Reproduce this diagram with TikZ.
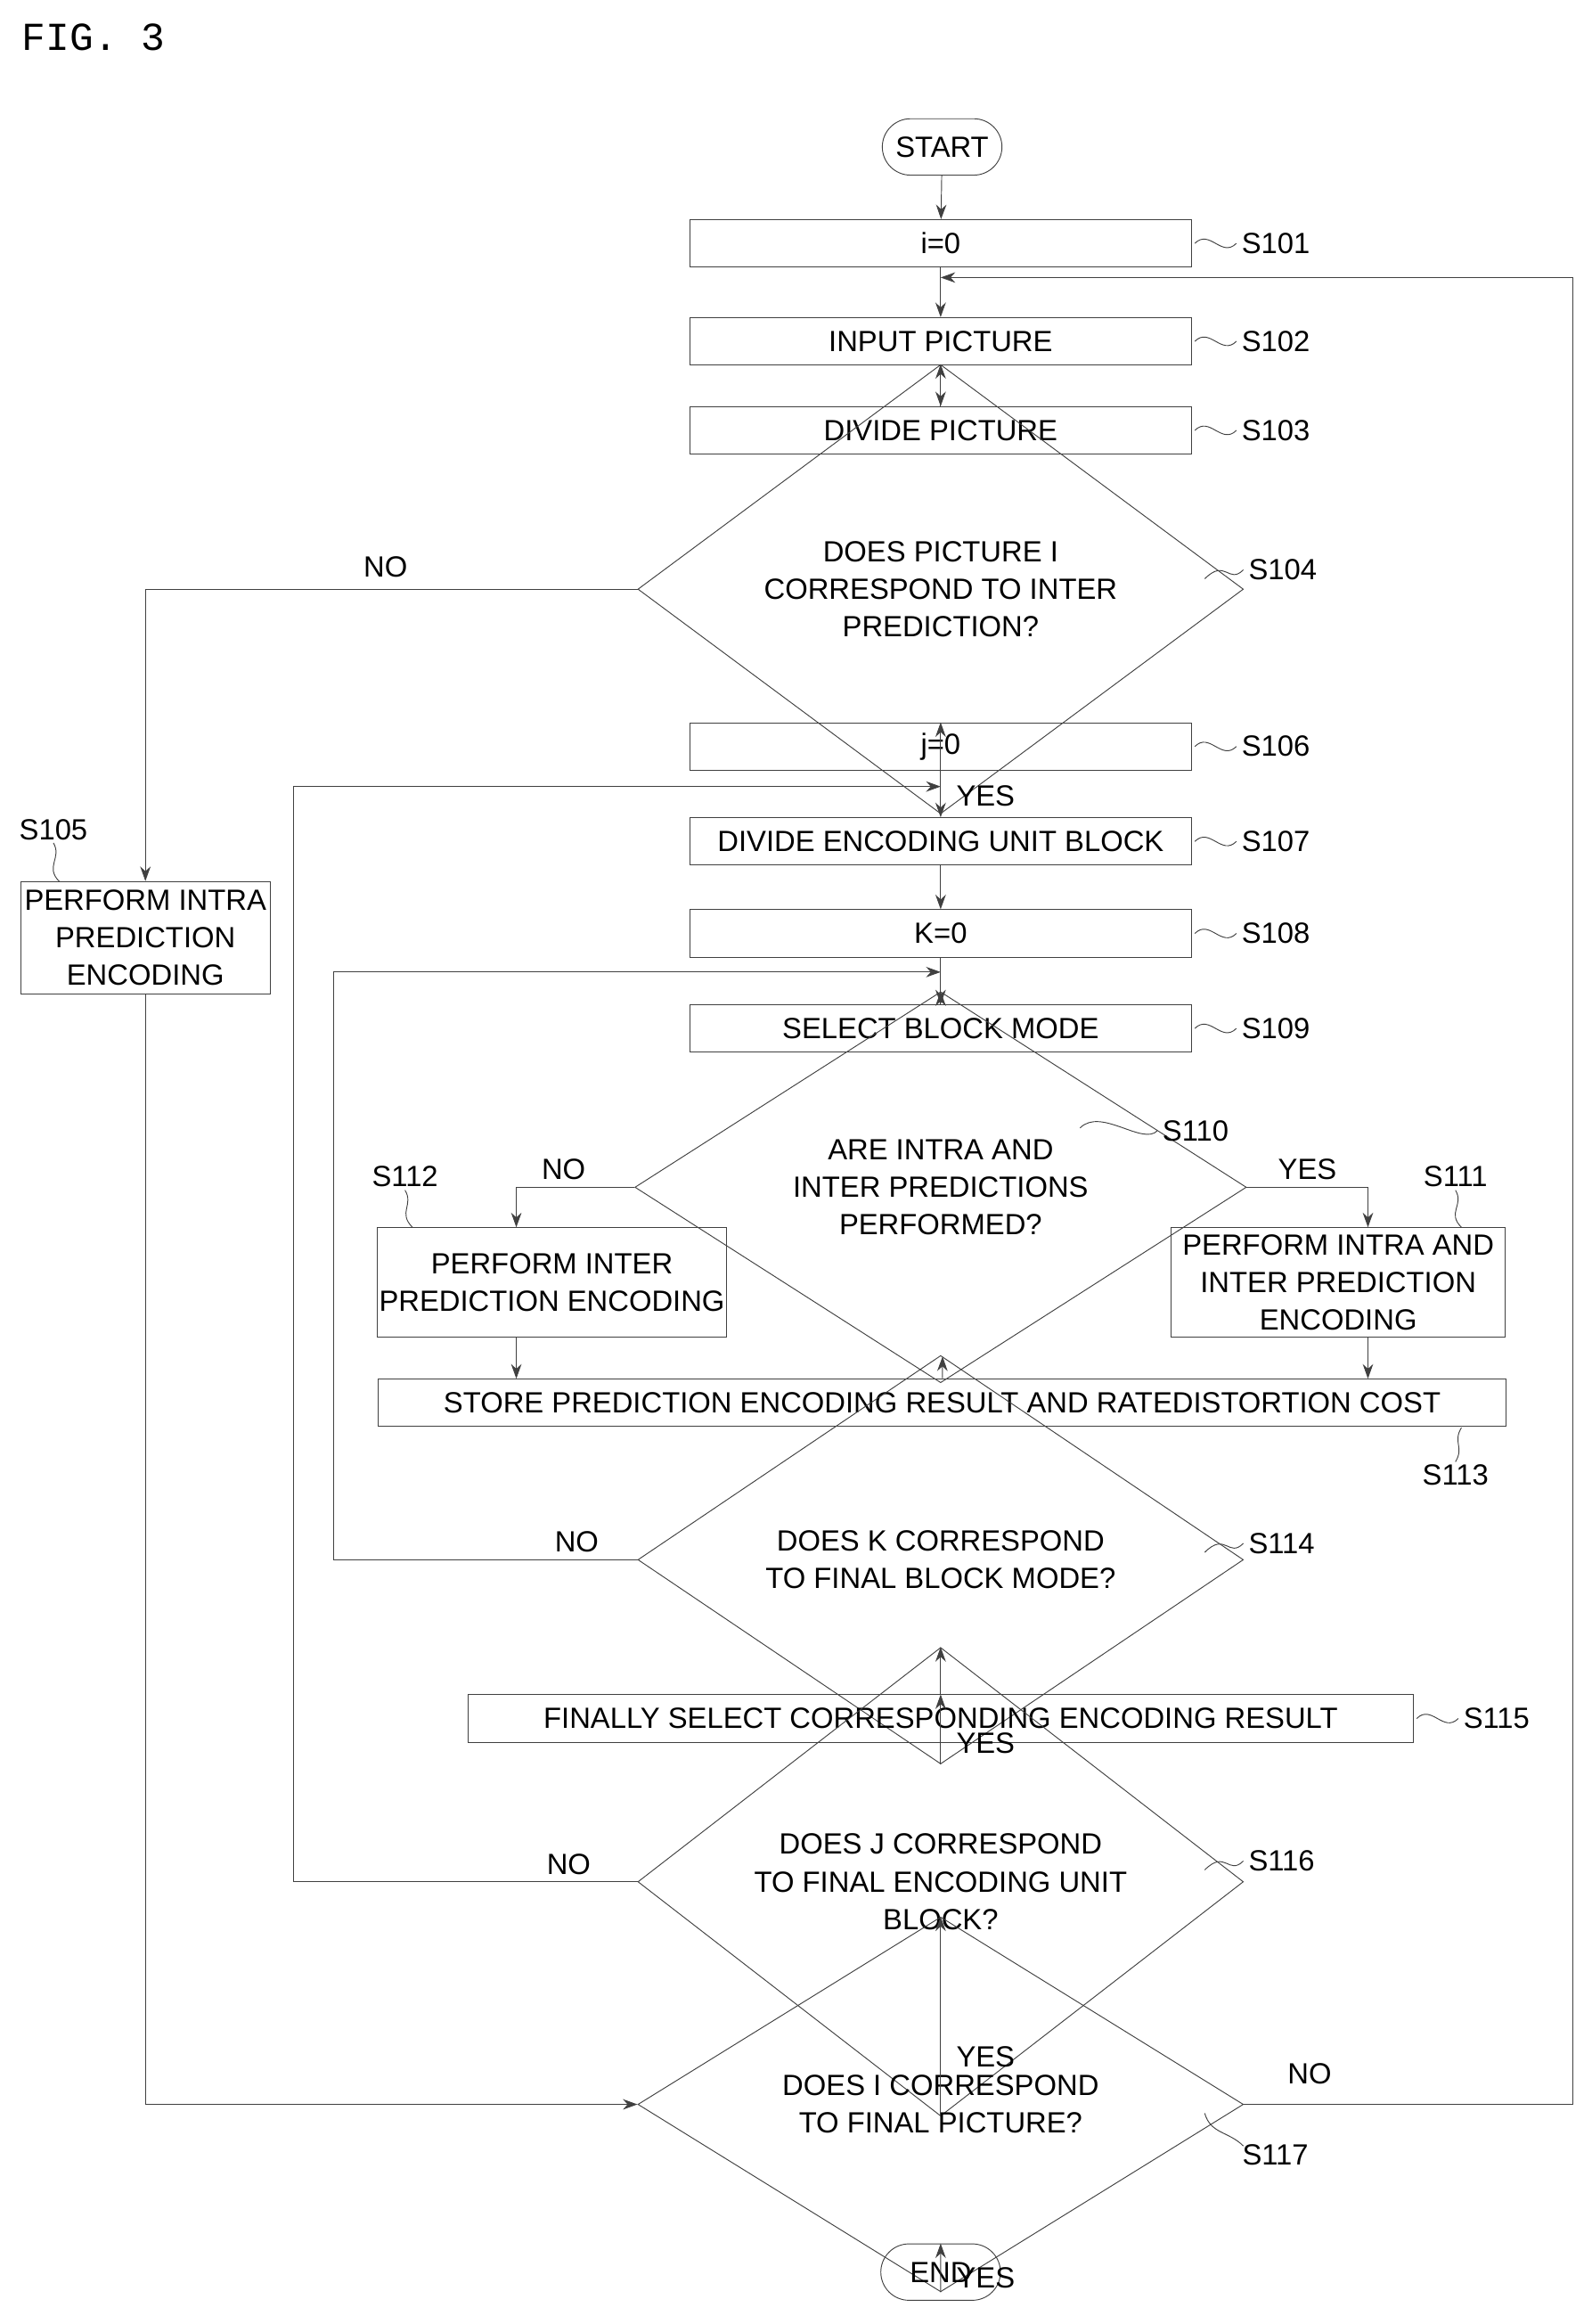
\documentclass[tikz,border=0pt]{standalone}
\usepackage{fontspec}
\setmainfont{Liberation Sans}
\newfontfamily\figfont{Liberation Mono}
\usetikzlibrary{shapes.geometric,shapes.misc,arrows.meta}

\begin{document}
\begin{tikzpicture}[x=0.025cm, y=-0.025cm, font=\fontsize{14}{18}\selectfont,
  stepbox/.style={draw=black!75, rectangle, minimum width=8.45cm, minimum height=0.8cm, inner sep=1pt},
  wide/.style={draw=black!75, rectangle, minimum height=0.8cm, inner sep=1pt},
  term/.style={draw=black!75, rounded rectangle, minimum width=2.25cm, minimum height=0.95cm},
  test/.style={draw=black!75, diamond, minimum width=10.2cm, minimum height=3.175cm, inner sep=0pt, align=center},
  arr/.style={draw=black!75, -{Stealth[length=7pt,width=5pt]}},
  tag/.style={draw=black!75}]

\useasboundingbox (0,0) rectangle (1073,1566);
\node[font=\figfont\fontsize{19}{22}\selectfont, anchor=west] (fig) at (10,25) {FIG. 3};

\node[term] (start) at (635,99) {START};
\node[stepbox] (s101) at (634,164) {i=0};
\node[stepbox] (s102) at (634,230) {INPUT PICTURE};
\node[stepbox] (s103) at (634,290) {DIVIDE PICTURE};
\node[test] (s104) at (634,397) {DOES PICTURE I\\CORRESPOND TO INTER\\PREDICTION?};
\node[stepbox] (s106) at (634,503) {j=0};
\node[wide, minimum width=4.2cm, minimum height=1.9cm, align=center] (s105) at (98,632) {PERFORM INTRA\\PREDICTION\\ENCODING};
\node[stepbox] (s107) at (634,567) {DIVIDE ENCODING UNIT BLOCK};
\node[stepbox] (s108) at (634,629) {K=0};
\node[stepbox] (s109) at (634,693) {SELECT BLOCK MODE};
\node[test, minimum width=10.3cm, minimum height=3.125cm] (s110) at (634,800) {ARE INTRA AND\\INTER PREDICTIONS\\PERFORMED?};
\node[wide, minimum width=5.875cm, minimum height=1.85cm, align=center] (s112) at (372,864) {PERFORM INTER\\PREDICTION ENCODING};
\node[wide, minimum width=5.625cm, minimum height=1.85cm, align=center] (s111) at (902,864) {PERFORM INTRA AND\\INTER PREDICTION\\ENCODING};
\node[wide, minimum width=19cm] (s113) at (635,945) {STORE PREDICTION ENCODING RESULT AND RATEDISTORTION COST};
\node[test, minimum height=3.075cm] (s114) at (634,1051) {DOES K CORRESPOND\\TO FINAL BLOCK MODE?};
\node[wide, minimum width=15.925cm] (s115) at (634,1158) {FINALLY SELECT CORRESPONDING ENCODING RESULT};
\node[test, minimum height=3.125cm] (s116) at (634,1268) {DOES J CORRESPOND\\TO FINAL ENCODING UNIT\\BLOCK?};
\node[test, minimum height=3.1cm] (s117) at (634,1418) {DOES I CORRESPOND\\TO FINAL PICTURE?};
\node[term] (end) at (634,1531) {END};

\coordinate (top) at (634,187);
\coordinate (jloop) at (634,530);
\coordinate (kloop) at (634,655);

\draw[arr] (start) -- (s101);
\draw[arr] (s101) -- (s102);
\draw[arr] (s102) -- (s103);
\draw[arr] (s103) -- (s104);
\draw[arr] (s104) -- node[pos=0.2, right=4pt] {YES} (s106);
\draw[arr] (s106) -- (s107);
\draw[arr] (s107) -- (s108);
\draw[arr] (s108) -- (s109);
\draw[arr] (s109) -- (s110);
\draw[arr] (s110.west) -| node[pos=0.3, above] {NO} (348,827);
\draw[arr] (s110.east) -| node[pos=0.25, above] {YES} (922,827);
\draw[arr] (348,901) -- (348,929);
\draw[arr] (922,901) -- (922,929);
\draw[arr] (s113) -- (s114);
\draw[arr] (s114) -- node[pos=0.3, right=4pt] {YES} (s115);
\draw[arr] (s115) -- (s116);
\draw[arr] (s116) -- node[pos=0.3, right=4pt] {YES} (s117);
\draw[arr] (s117) -- node[pos=0.3, right=4pt] {YES} (end);
\draw[arr] (s104.west) -| node[pos=0.15, above=2pt, xshift=-50] {NO} (s105.north);
\draw[arr] (s105.south) |- (s117.west);
\draw[arr] (s114.west) -| node[pos=0.1, above] {NO} (225,655) -- (kloop);
\draw[arr] (s116.west) -| node[pos=0.1, above] {NO} (198,530) -- (jloop);
\draw[arr] (s117.east) -| node[pos=0.1, above=6pt] {NO} (1060,187) -- (top);

% step tags
\foreach \n in {101,102,103,106,107,108,109,115}
  \draw[tag] (s\n.east) ++(2,0) .. controls +(10,-10) and +(-10,10) .. ++(28,0) node[right=-1pt] {S\n};
\draw[tag] (812,390) .. controls +(14,-14) and +(-10,10) .. (838,384) node[right=-1pt] {S104};
\draw[tag] (812,1046) .. controls +(14,-14) and +(-10,10) .. (838,1040) node[right=-1pt] {S114};
\draw[tag] (812,1260) .. controls +(14,-14) and +(-10,10) .. (838,1254) node[right=-1pt] {S116};
\draw[tag] (812,1424) .. controls +(4,14) and +(-10,-10) .. (838,1446) node[below right=-4pt] {S117};
\draw[tag] (728,760) .. controls +(14,-14) and +(-10,10) .. (780,762) node[right=-1pt] {S110};
\draw[tag] (40,594) .. controls +(-10,-10) and +(6,10) .. (36,568) node[above=-2pt] {S105};
\draw[tag] (278,827) .. controls +(-10,-10) and +(6,10) .. (273,802) node[above=-2pt] {S112};
\draw[tag] (985,827) .. controls +(-10,-10) and +(6,10) .. (981,802) node[above=-2pt] {S111};
\draw[tag] (985,962) .. controls +(-6,10) and +(6,-10) .. (981,985) node[below=-2pt] {S113};
\end{tikzpicture}
\end{document}
